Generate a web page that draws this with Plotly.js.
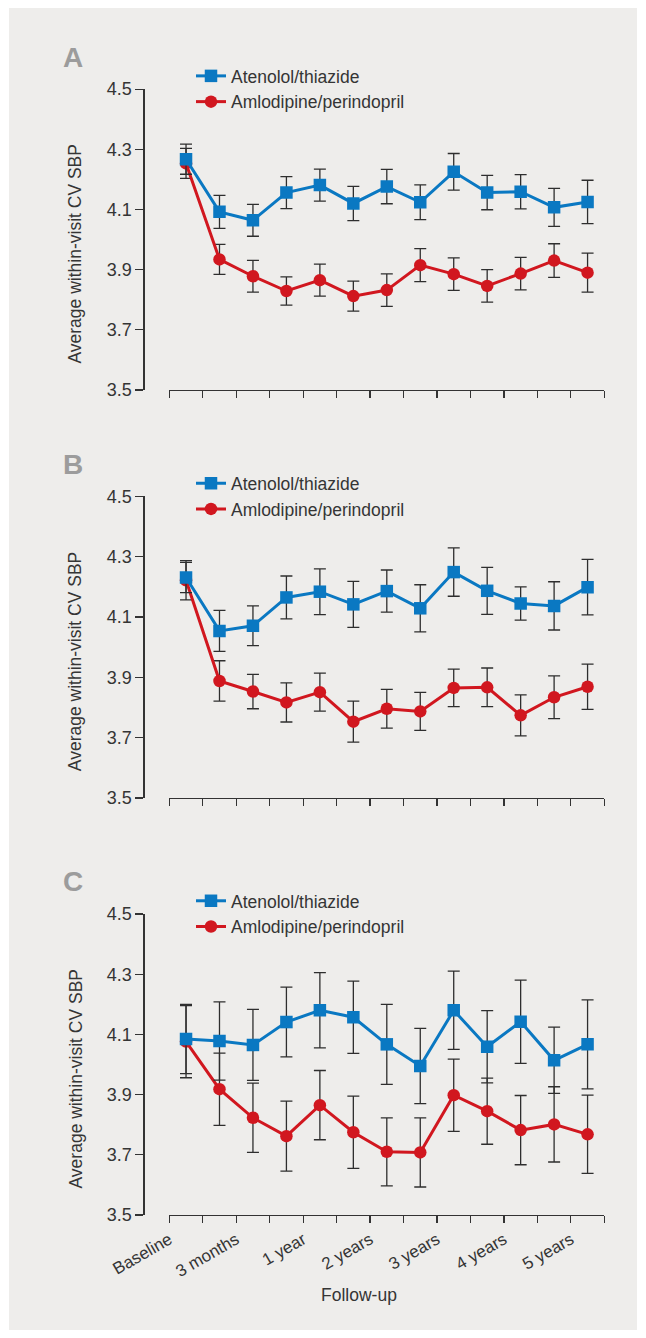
<!DOCTYPE html>
<html><head><meta charset="utf-8">
<script src="https://cdn.plot.ly/plotly-3.0.1.min.js"></script>
<style>html,body{margin:0;padding:0;background:#fff}#chart{width:646px;height:1338px}</style>
</head><body><div id="chart"></div>
<script>
// ---- data ----
const visits = ['Baseline','3 months','6 months','1 year','18 months','2 years','2.5 years','3 years','3.5 years','4 years','4.5 years','5 years','5.5 years'];
const tickLabels = ['Baseline','','3 months','','1 year','','2 years','','3 years','','4 years','','5 years',''];
const yTicks = [3.5,3.7,3.9,4.1,4.3,4.5];
const seriesNames = ['Atenolol/thiazide','Amlodipine/perindopril'];
const panelLetters = ['A','B','C'];
const yTitle = 'Average within-visit CV SBP';
const xTitle = 'Follow-up';

const atenololA     = [4.267,4.092,4.064,4.156,4.181,4.120,4.176,4.124,4.225,4.156,4.159,4.107,4.125];
const atenololA_err = [0.050,0.055,0.053,0.053,0.053,0.057,0.057,0.058,0.061,0.057,0.057,0.063,0.072];
const amlodipineA     = [4.253,3.934,3.878,3.829,3.865,3.812,3.832,3.915,3.885,3.846,3.887,3.930,3.890];
const amlodipineA_err = [0.050,0.050,0.053,0.047,0.053,0.050,0.054,0.055,0.054,0.054,0.054,0.056,0.065];

const atenololB     = [4.231,4.054,4.071,4.165,4.184,4.142,4.186,4.129,4.249,4.187,4.145,4.137,4.199];
const atenololB_err = [0.050,0.068,0.066,0.071,0.076,0.076,0.070,0.078,0.080,0.078,0.055,0.080,0.092];
const amlodipineB     = [4.222,3.888,3.853,3.817,3.851,3.753,3.796,3.787,3.865,3.867,3.774,3.834,3.869];
const amlodipineB_err = [0.065,0.067,0.057,0.065,0.063,0.068,0.064,0.063,0.062,0.064,0.068,0.071,0.075];

const atenololC     = [4.085,4.078,4.065,4.141,4.180,4.157,4.067,3.995,4.180,4.059,4.142,4.014,4.067];
const atenololC_err = [0.115,0.130,0.118,0.116,0.125,0.120,0.133,0.125,0.130,0.120,0.138,0.110,0.148];
const amlodipineC     = [4.076,3.918,3.823,3.762,3.865,3.775,3.710,3.708,3.898,3.845,3.782,3.801,3.768];
const amlodipineC_err = [0.120,0.120,0.115,0.116,0.115,0.120,0.113,0.115,0.120,0.110,0.115,0.125,0.130];

// ---- layout helpers ----
const W = 646, H = 1338;
const fx = px => px / W;
const fy = py => 1 - py / H;
const FONT = 'Liberation Sans, Arial, Helvetica, sans-serif';
const TXT = '#353535';
const BLUE = '#0a78c2', RED = '#d1171f';
const xIdx = visits.map((_, i) => i);
const boundaries = tickLabels.map((_, i) => i - 0.5);

const panels = [
  {ate: atenololA, ateE: atenololA_err, aml: amlodipineA, amlE: amlodipineA_err, top: 89.1, bottom: 390},
  {ate: atenololB, ateE: atenololB_err, aml: amlodipineB, amlE: amlodipineB_err, top: 496.4, bottom: 798},
  {ate: atenololC, ateE: atenololC_err, aml: amlodipineC, amlE: amlodipineC_err, top: 914, bottom: 1215}
];

const data = [];
const layout = {
  width: W, height: H,
  margin: {l: 0, r: 0, t: 0, b: 0},
  paper_bgcolor: '#ffffff',
  plot_bgcolor: 'rgba(0,0,0,0)',
  font: {family: FONT, color: TXT, size: 17},
  showlegend: true,
  shapes: [{type: 'rect', xref: 'paper', yref: 'paper', x0: fx(9), x1: fx(637), y0: fy(1330), y1: fy(8),
            fillcolor: '#eeedeb', line: {width: 0}, layer: 'below'}],
  annotations: []
};

panels.forEach((p, k) => {
  const sfx = k === 0 ? '' : String(k + 1);
  const xa = 'x' + sfx, ya = 'y' + sfx;
  const lg = 'legend' + sfx;
  const errStyle = arr => ({type: 'data', array: arr, visible: true, color: '#2e2e2e', thickness: 1.3, width: 6});
  data.push({
    x: xIdx, y: p.aml, text: visits, name: seriesNames[1], type: 'scatter', mode: 'lines+markers',
    xaxis: xa, yaxis: ya, legend: lg, legendrank: 2,
    line: {color: RED, width: 3}, marker: {symbol: 'circle', size: 12.5, color: RED},
    error_y: errStyle(p.amlE)
  });
  data.push({
    x: xIdx, y: p.ate, text: visits, name: seriesNames[0], type: 'scatter', mode: 'lines+markers',
    xaxis: xa, yaxis: ya, legend: lg, legendrank: 1,
    line: {color: BLUE, width: 3}, marker: {symbol: 'square', size: 12.5, color: BLUE},
    error_y: errStyle(p.ateE)
  });
  layout['xaxis' + sfx] = {
    domain: [fx(169.3), fx(604.3)], anchor: ya, range: [-0.5, 12.5],
    tickmode: 'array', tickvals: boundaries, ticktext: tickLabels,
    showticklabels: k === 2, tickangle: -30, tickfont: {size: 17, color: TXT},
    ticks: 'outside', ticklen: 7, tickwidth: 1.2, tickcolor: '#333',
    showline: true, linecolor: '#333', linewidth: 1.2, showgrid: false, zeroline: false, fixedrange: true
  };
  layout['yaxis' + sfx] = {
    domain: [fy(p.bottom), fy(p.top)], anchor: 'free', position: fx(143.3), range: [3.5, 4.5],
    tickmode: 'array', tickvals: yTicks, tickformat: '.1f', tickfont: {size: 18, color: TXT},
    ticks: 'outside', ticklen: 8, tickwidth: 1.2, tickcolor: '#333',
    showline: true, linecolor: '#333', linewidth: 1.2, showgrid: false, zeroline: false, fixedrange: true
  };
  const off = p.top - 89.1;
  layout[lg] = {
    x: fx(191), y: fy(58 + off), xanchor: 'left', yanchor: 'top',
    bgcolor: 'rgba(0,0,0,0)', borderwidth: 0, font: {size: 17.5, color: TXT, family: FONT},
    traceorder: 'normal', itemclick: false, itemdoubleclick: false
  };
  layout.annotations.push({
    text: '<b>' + panelLetters[k] + '</b>', xref: 'paper', yref: 'paper', x: fx(72.5), y: fy(57 + off),
    xanchor: 'center', yanchor: 'middle', showarrow: false, font: {size: 28, color: '#9c9c9c', family: FONT}
  });
  layout.annotations.push({
    text: yTitle, xref: 'paper', yref: 'paper', x: fx(75), y: fy((p.top + p.bottom) / 2 + 14),
    xanchor: 'center', yanchor: 'middle', textangle: -90, showarrow: false, font: {size: 17.5, color: TXT, family: FONT}
  });
});

layout.annotations.push({
  text: xTitle, xref: 'paper', yref: 'paper', x: fx(359), y: fy(1295),
  xanchor: 'center', yanchor: 'middle', showarrow: false, font: {size: 17.5, color: TXT, family: FONT}
});

Plotly.newPlot('chart', data, layout, {staticPlot: true, displayModeBar: false});
</script>
</body></html>
